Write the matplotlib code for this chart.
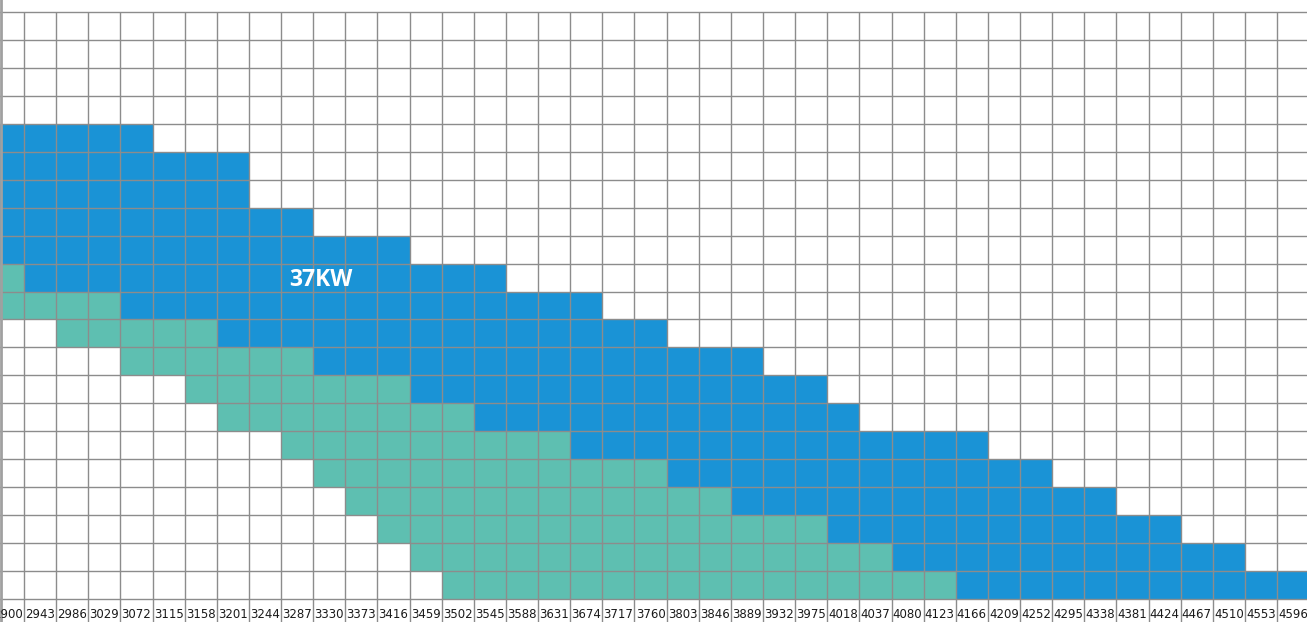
import matplotlib
matplotlib.use("Agg")
import matplotlib.pyplot as plt

# ------------------- DATA ------------------- #
speeds = [2900, 2943, 2986, 3029, 3072, 3115, 3158, 3201, 3244, 3287,
          3330, 3373, 3416, 3459, 3502, 3545, 3588, 3631, 3674, 3717,
          3760, 3803, 3846, 3889, 3932, 3975, 4018, 4037, 4080, 4123,
          4166, 4209, 4252, 4295, 4338, 4381, 4424, 4467, 4510, 4553, 4596]

# teal band: bottom / top (in grid rows)
green_low = [10, 10, 9, 9, 8, 8, 7, 6, 6, 5,
             4, 3, 2, 1, 0, 0, 0, 0, 0, 0,
             0, 0, 0, 0, 0, 0, 0, 0, 0, 0,
             0, 0, 0, 0, 0, 0, 0, 0, 0, 0, 0]
green_high = [12, 11, 11, 11, 10, 10, 10, 9, 9, 9,
              8, 8, 8, 7, 7, 6, 6, 6, 5, 5,
              5, 4, 4, 3, 3, 3, 2, 2, 1, 1,
              0, 0, 0, 0, 0, 0, 0, 0, 0, 0, 0]
# blue band sits on top of the teal band
blue_high = [17, 17, 17, 17, 17, 16, 16, 16, 14, 14,
             13, 13, 13, 12, 12, 12, 11, 11, 11, 10,
             10, 9, 9, 9, 8, 8, 7, 6, 6, 6,
             6, 5, 5, 4, 4, 3, 3, 2, 2, 1, 1]

label_text = "37KW"
n_rows = 21

BLUE = "#1a93d6"
TEAL = "#5ebfb1"
GRID = "#8c8c8c"

# ------------------- FIGURE ------------------- #
fig = plt.figure(figsize=(13.07, 6.22), dpi=100)
ax = fig.add_axes([0, 0, 1, 1])
ax.set_xlim(0.253, 40.93)
ax.set_ylim(-0.823, 21.43)
ax.axis("off")

xs = list(range(len(speeds)))
green_h = [h - l for l, h in zip(green_low, green_high)]
blue_h = [b - g for g, b in zip(green_high, blue_high)]

ax.bar(xs, green_h, bottom=green_low, width=1, align="edge", color=TEAL, linewidth=0, zorder=1)
ax.bar(xs, blue_h, bottom=green_high, width=1, align="edge", color=BLUE, linewidth=0, zorder=1)

# grid
ax.hlines(range(n_rows + 1), 0, len(speeds), colors=GRID, linewidth=1.0, zorder=2)
ax.vlines(range(len(speeds) + 1), -0.823, n_rows, colors=GRID, linewidth=1.0, zorder=2)
ax.axvline(0.29, color="#a0a0a0", linewidth=2.0, zorder=2)

# column labels
for x, s in zip(xs, speeds):
    ax.text(x + 0.5, -0.56, str(s), ha="center", va="center", fontsize=8.5,
            family=["Liberation Sans Narrow", "DejaVu Sans"], color="#1a1a1a", zorder=3)

ax.text(10.23, 11.4, label_text, ha="center", va="center", fontsize=16.5,
        fontweight="bold", family=["Open Sans", "DejaVu Sans"], color="white", zorder=3)

fig.savefig("out.png", dpi=100)
